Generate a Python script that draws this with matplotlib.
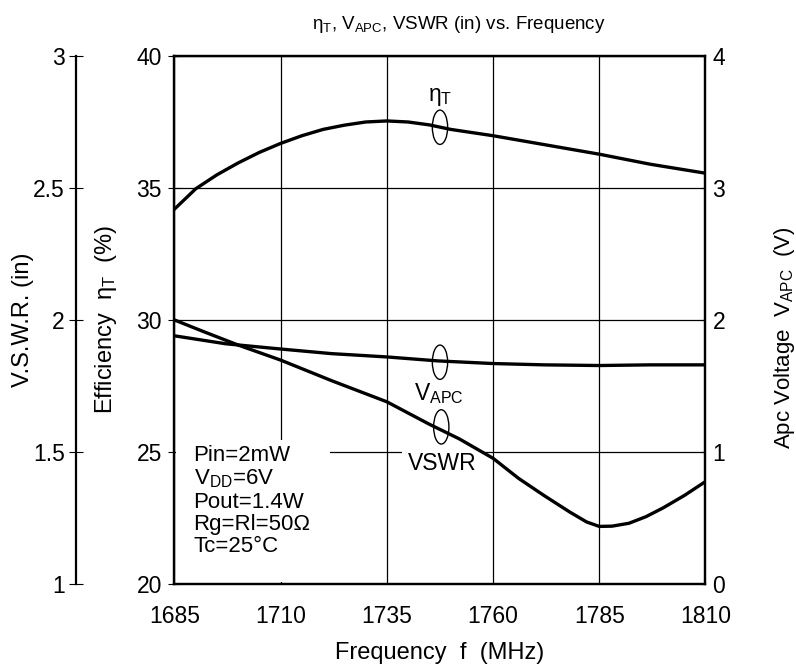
import matplotlib
matplotlib.use('Agg')
import matplotlib.pyplot as plt
from matplotlib.patches import Ellipse, Rectangle

plt.rcParams['font.family'] = ['Liberation Sans', 'DejaVu Sans']
plt.rcParams['mathtext.fontset'] = 'custom'
plt.rcParams['mathtext.rm'] = 'Liberation Sans'
plt.rcParams['mathtext.it'] = 'Liberation Sans'

# efficiency eta_T (%) - left axis
eff_freq = [1685, 1690, 1695, 1700, 1705, 1710, 1715, 1720, 1725, 1730, 1735,
            1740, 1745, 1750, 1755, 1760, 1770, 1785, 1797, 1810]
eff = [34.2, 34.97, 35.5, 35.95, 36.35, 36.69, 36.98, 37.22, 37.38, 37.5, 37.54,
       37.5, 37.39, 37.22, 37.1, 36.98, 36.7, 36.28, 35.9, 35.56]

# Apc voltage (V) - right axis
vapc_freq = [1685, 1697, 1710, 1722, 1735, 1747, 1760, 1772, 1785, 1797, 1810]
vapc = [1.88, 1.82, 1.78, 1.745, 1.72, 1.69, 1.67, 1.66, 1.655, 1.66, 1.66]

# VSWR (in) - outer left axis
vswr_freq = [1685, 1692, 1700, 1710, 1722, 1735, 1745, 1752, 1760, 1766, 1772,
             1778, 1782, 1785, 1788, 1792, 1796, 1800, 1805, 1810]
vswr = [2.00, 1.955, 1.905, 1.848, 1.77, 1.69, 1.605, 1.55, 1.476, 1.40, 1.335,
        1.273, 1.235, 1.218, 1.219, 1.23, 1.255, 1.288, 1.335, 1.388]

freq_ticks = [1685, 1710, 1735, 1760, 1785, 1810]
eff_ticks = [20, 25, 30, 35, 40]
vapc_ticks = [0, 1, 2, 3, 4]
vswr_ticks = [1, 1.5, 2, 2.5, 3]
vswr_labels = ['1', '1.5', '2', '2.5', '3']

fig = plt.figure(figsize=(7.96, 6.69), dpi=100)
ax = fig.add_axes([0.2192, 0.1271, 0.6671, 0.7892])

ax.plot(eff_freq, eff, color='black', lw=2.4, zorder=3)
ax.set_xlim(1685, 1810)
ax.set_ylim(20, 40)
ax.set_xticks(freq_ticks)
ax.set_yticks(eff_ticks)
ax.grid(True, color='black', lw=0.9)
ax.tick_params(axis='x', length=0, labelsize=16.5, pad=15)
ax.tick_params(axis='y', length=8, labelsize=16.5, direction='inout', pad=5)
for s in ax.spines.values():
    s.set_linewidth(1.6)
ax.set_xlabel('Frequency  f  (MHz)', fontsize=17, labelpad=10)
ax.set_ylabel('Efficiency  η$_\\mathrm{T}$  (%)', fontsize=17)
ax.yaxis.set_label_coords(-0.1045, 0.5)

# white area behind the condition text
ax.add_patch(Rectangle((0.003, 0.003), 0.29, 0.27, transform=ax.transAxes,
                       facecolor='white', edgecolor='none', zorder=2))

# right axis for VAPC
axv = ax.twinx()
axv.plot(vapc_freq, vapc, color='black', lw=2.4, zorder=3)
axv.set_ylim(0, 4)
axv.set_yticks(vapc_ticks)
axv.tick_params(axis='y', length=3, direction='in', labelsize=16.5, pad=5)
axv.set_ylabel('Apc Voltage  V$_\\mathrm{APC}$  (V)', fontsize=16)
axv.yaxis.set_label_coords(1.126, 0.466)
for s in axv.spines.values():
    s.set_linewidth(1.6)

# outer left axis for VSWR
axs = ax.twinx()
axs.plot(vswr_freq, vswr, color='black', lw=2.4, zorder=3)
axs.set_ylim(1, 3)
axs.spines['left'].set_position(('axes', -0.1855))
axs.spines['left'].set_visible(True)
axs.spines['left'].set_linewidth(1.6)
axs.spines['right'].set_visible(False)
axs.spines['top'].set_visible(False)
axs.spines['bottom'].set_visible(False)
axs.yaxis.set_label_position('left')
axs.yaxis.set_ticks_position('left')
axs.set_yticks(vswr_ticks)
axs.set_yticklabels(vswr_labels)
axs.tick_params(axis='y', length=10, direction='inout', labelsize=16.5, pad=3)
axs.set_ylabel('V.S.W.R. (in)', fontsize=17)
axs.yaxis.set_label_coords(-0.2646, 0.5)

# curve labels with loop symbols
ax.text(1747.5, 38.45, 'η$_\\mathrm{T}$', fontsize=16.5, ha='center', va='center', zorder=5)
ax.add_patch(Ellipse((1747.5, 37.3), 3.6, 1.3, fill=False, color='black', lw=1.0, zorder=4))
ax.add_patch(Ellipse((1747.5, 28.4), 3.6, 1.3, fill=False, color='black', lw=1.0, zorder=4))
ax.text(1747.3, 27.2, 'V$_\\mathrm{APC}$', fontsize=16.5, ha='center', va='center', zorder=5)
ax.add_patch(Ellipse((1747.8, 25.95), 3.6, 1.3, fill=False, color='black', lw=1.0, zorder=4))
ax.text(1748.0, 24.55, 'VSWR', fontsize=16.5, ha='center', va='center', zorder=5,
        bbox=dict(facecolor='white', edgecolor='none', pad=4))

ax.text(1689.5, 25.25, 'Pin=2mW\nV$_\\mathrm{DD}$=6V\nPout=1.4W\nRg=Rl=50Ω\nTc=25°C',
        fontsize=16, ha='left', va='top', linespacing=1.08, zorder=5)

fig.text(0.577, 0.963, 'η$_\\mathrm{T}$, V$_\\mathrm{APC}$, VSWR (in) vs. Frequency',
         fontsize=13.5, ha='center', va='center')

fig.savefig('out.png', dpi=100)
